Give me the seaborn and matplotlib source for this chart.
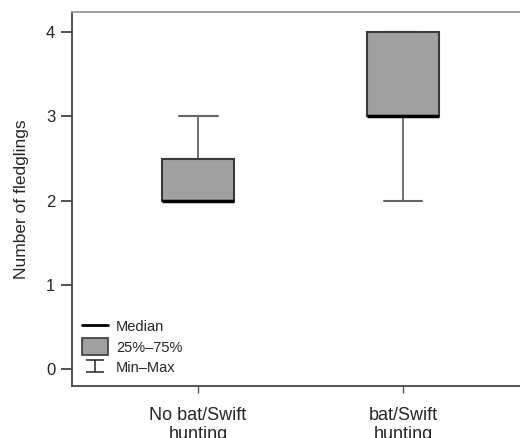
import numpy as np
import pandas as pd
import seaborn as sns
import matplotlib.pyplot as plt
from matplotlib.lines import Line2D
from matplotlib.patches import Patch
from matplotlib.path import Path

# values (five-number summary per group)
groups = ["No bat/Swift\nhunting", "bat/Swift\nhunting"]
mins = [2, 2]
q1s = [2, 3]
medians = [2, 3]
q3s = [2.5, 4]
maxs = [3, 4]

# long-form table: the five numbers per group reproduce the same quartiles
rows = []
for g, a, b, c, d, e in zip(groups, mins, q1s, medians, q3s, maxs):
    for v in (a, b, c, d, e):
        rows.append({"group": g, "fledglings": v})
data = pd.DataFrame(rows)

sns.set_style("ticks")
plt.rcParams['font.family'] = ['Liberation Sans', 'DejaVu Sans']

fig = plt.figure(figsize=(5.2, 4.38), dpi=100)
ax = fig.add_axes([0.1385, 0.1187, 0.8615, 0.8539])

box_face = "#a0a0a0"
edge = "#3a3a3a"
sns.boxplot(data=data, x="group", y="fledglings", order=groups, ax=ax,
            whis=(0, 100), width=0.35, color=box_face, saturation=1,
            boxprops=dict(facecolor=box_face, edgecolor=edge, linewidth=1.5, zorder=3),
            medianprops=dict(color="black", linewidth=2.5, zorder=4),
            whiskerprops=dict(color="#555555", linewidth=1.2, zorder=2),
            capprops=dict(color="#666666", linewidth=1.5, zorder=2),
            showfliers=False)

# cap width a bit wider than seaborn default
for line in ax.lines:
    xd = line.get_xdata()
    if len(xd) == 2 and xd[0] != xd[1] and line.get_color() == "#666666":
        c = np.mean(xd)
        line.set_xdata([c - 0.095, c + 0.095])

ax.set_xlim(-0.615, 1.571)
ax.set_ylim(-0.2, 4.24)
ax.set_yticks([0, 1, 2, 3, 4])
ax.set_xlabel("")
ax.set_ylabel("Number of fledglings", fontsize=12.5, labelpad=12)
ax.tick_params(axis="y", labelsize=12, length=8, width=1.2, color="#333333", pad=4)
ax.tick_params(axis="x", labelsize=13, length=5, width=1, color="#555555", pad=10)

for s in ["left", "bottom"]:
    ax.spines[s].set_color("#444444")
    ax.spines[s].set_linewidth(1.3)
ax.spines["top"].set_visible(True)
ax.spines["top"].set_color("#999999")
ax.spines["top"].set_linewidth(1.3)
ax.spines["right"].set_visible(False)

# legend with custom handles
ibeam = Path([(-0.65, -0.45), (0.65, -0.45), (0, -0.45), (0, 0.45), (-0.65, 0.45), (0.65, 0.45)],
             [Path.MOVETO, Path.LINETO, Path.MOVETO, Path.LINETO, Path.MOVETO, Path.LINETO])
handles = [
    Line2D([], [], color="black", linewidth=2),
    Patch(facecolor=box_face, edgecolor=edge, linewidth=1.2),
    Line2D([], [], color="#333333", linestyle="none", marker=ibeam,
           markersize=13, markeredgewidth=1.2, markerfacecolor="none"),
]
labels = ["Median", "25%\u201375%", "Min\u2013Max"]
ax.legend(handles, labels, loc="lower left", bbox_to_anchor=(0.0, 0.0),
          frameon=False, fontsize=10.5, handlelength=1.8, handleheight=1.4,
          handletextpad=0.5, labelspacing=0.25, borderpad=0.2)

fig.savefig("out.png", dpi=100)
